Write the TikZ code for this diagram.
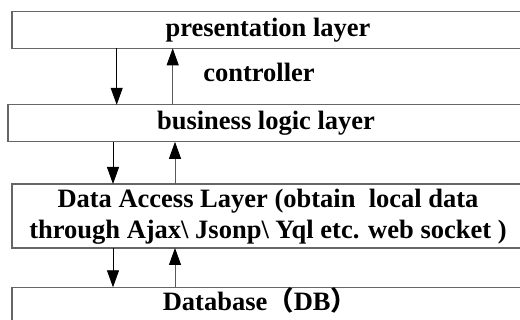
\documentclass[tikz,border=0pt]{standalone}
\usepackage{fontspec}
\setmainfont{Liberation Serif}
\newfontfamily\cjk{Noto Sans CJK SC}
\usetikzlibrary{arrows.meta}
\begin{document}
\begin{tikzpicture}[x=1pt,y=-1pt,
  layerbox/.style={draw=black!60,line width=1.2pt,fill=white,inner sep=0pt,outer sep=0pt,rectangle,anchor=north west},
  lbl/.style={font=\fontsize{26.5}{31}\selectfont\bfseries,inner sep=0pt,align=center},
  flow/.style={line width=0.9pt,-{Triangle[length=17pt,width=12pt,color=black,fill=black]}}]
\useasboundingbox (0,0) rectangle (520,320);
\clip (0,0) rectangle (520,320);
\node[layerbox,minimum width=530pt,minimum height=36.5pt] (b1) at (12,11.8) {};
\node[layerbox,minimum width=530pt,minimum height=37pt] (b2) at (8,104.8) {};
\node[layerbox,minimum width=530pt,minimum height=64pt] (b3) at (12,184) {};
\node[layerbox,minimum width=530pt,minimum height=50pt] (b4) at (12,287.3) {};
\node[lbl] (t1) at (268,30) {presentation layer};
\node[lbl] (t2) at (266,123) {business logic layer};
\node[lbl] (t3) at (268,217) {Data Access Layer (obtain~ local data\\through Ajax\textbackslash{} Jsonp\textbackslash{} Yql etc. web socket )};
\node[lbl] (t4) at (260,300) {Database{\cjk （}DB{\cjk ）}};
\node[lbl] (ctl) at (259,72) {controller};
\coordinate (xa) at (116.7,0);
\coordinate (xb) at (172.7,0);
\coordinate (xc) at (113,0);
\coordinate (xd) at (175,0);
\draw[flow] (b1.south -| xa) -- (b2.north -| xa);
\draw[flow,draw=black!65] (b2.north -| xb) -- (b1.south -| xb);
\draw[flow] (b2.south -| xc) -- (b3.north -| xc);
\draw[flow,draw=black!65] (b3.north -| xd) -- (b2.south -| xd);
\draw[flow] (b3.south -| xc) -- (b4.north -| xc);
\draw[flow,draw=black!65] (b4.north -| xd) -- (b3.south -| xd);
\end{tikzpicture}
\end{document}
